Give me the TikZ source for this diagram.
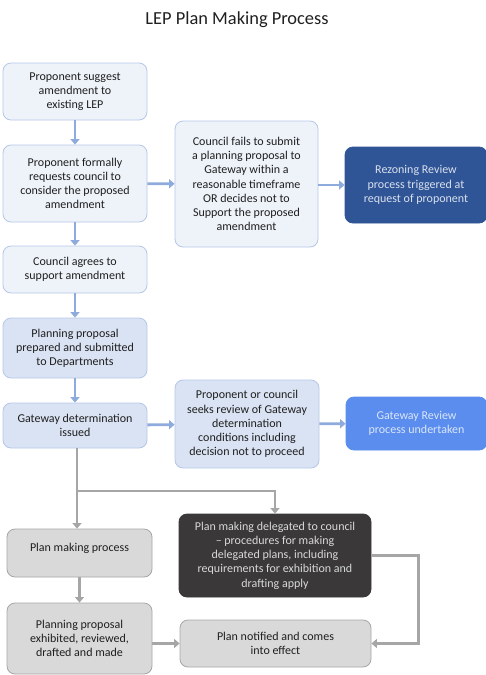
\documentclass[tikz,border=0pt]{standalone}
\usepackage{fontspec}
\setmainfont{Carlito}
\usepackage{xcolor}
\usepackage{tikz}
\usetikzlibrary{positioning,arrows.meta}

\definecolor{paleblue}{HTML}{EEF3FA}
\definecolor{midblue}{HTML}{DAE3F3}
\definecolor{edgeblue}{HTML}{B4C7E7}
\definecolor{darkblue}{HTML}{2F5597}
\definecolor{brightblue}{HTML}{5A8DEE}
\definecolor{arrowblue}{HTML}{8FAADC}
\definecolor{boxgray}{HTML}{D9D9D9}
\definecolor{edgegray}{HTML}{A6A6A6}
\definecolor{darkbox}{HTML}{3A3838}

\begin{document}
\begin{tikzpicture}[x=1pt,y=-1pt,
  box/.style={draw=edgeblue,line width=0.8pt,rounded corners=8pt,align=center,
    inner sep=2pt,font=\fontsize{12}{14.2}\selectfont,text=black!88},
  pale/.style={box,fill=paleblue},
  mid/.style={box,fill=midblue},
  grey/.style={box,draw=edgegray,fill=boxgray},
  bluearrow/.style={draw=arrowblue,line width=2.8pt,-{Triangle[width=9pt,length=5.5pt]}},
  grayarrow/.style={draw=edgegray,line width=2.8pt,-{Triangle[width=9pt,length=5.5pt]}}]
\useasboundingbox (0,0) rectangle (486,675);
\node[font=\fontsize{18.4}{21}\selectfont,text=black!88] (title) at (237,20) {LEP Plan Making Process};

% left column
\node[pale,minimum width=144pt,minimum height=57pt] (s1) at (75,91.5) {Proponent suggest\\amendment to\\existing LEP};
\node[pale,minimum width=144pt,minimum height=77pt] (s2) at (75,183.5) {Proponent formally\\requests council to\\consider the proposed\\amendment};
\node[pale,minimum width=144pt,minimum height=47pt] (s3) at (75,269.5) {Council agrees to\\support amendment};
\node[mid,minimum width=144pt,minimum height=60pt] (prep) at (75,348) {Planning proposal\\prepared and submitted\\to Departments};
\node[mid,minimum width=144pt,minimum height=45pt] (gwdet) at (75,425.5) {Gateway determination\\issued};

% review branches
\node[pale,minimum width=143pt,minimum height=126pt] (fails) at (246.5,184) {Council fails to submit\\a planning proposal to\\Gateway within a\\reasonable timeframe\\OR decides not to\\Support the proposed\\amendment};
\node[box,draw=darkblue,fill=darkblue,text=white!82!darkblue,minimum width=142pt,minimum height=76pt] (rezone) at (416,185) {Rezoning Review\\process triggered at\\request of proponent};
\node[mid,minimum width=144pt,minimum height=88pt] (seeks) at (247,424) {Proponent or council\\seeks review of Gateway\\determination\\conditions including\\decision not to proceed};
\node[box,draw=brightblue,fill=brightblue,text=white!78!brightblue,minimum width=141pt,minimum height=53pt] (gwrev) at (416.5,423.5) {Gateway Review\\process undertaken};

% plan making
\node[grey,minimum width=145pt,minimum height=48pt,text depth=12pt] (pmp) at (79.5,553) {Plan making process};
\node[box,draw=darkbox,fill=darkbox,text=boxgray,minimum width=192pt,minimum height=83pt] (deleg) at (275,555.5) {Plan making delegated to council\\-- procedures for making\\delegated plans, including\\requirements for exhibition and\\drafting apply};
\node[grey,minimum width=145pt,minimum height=71pt] (exhib) at (79.5,638.5) {Planning proposal\\exhibited, reviewed,\\drafted and made};
\node[grey,minimum width=191pt,minimum height=47pt] (notif) at (275.5,643.5) {Plan notified and comes\\into effect};

\coordinate (split) at (77,491);

\draw[bluearrow] (s1) -- (s2);
\draw[bluearrow] (s2) -- (s3);
\draw[bluearrow] (s3) -- (prep);
\draw[bluearrow] (prep) -- (gwdet);
\draw[bluearrow] (s2) -- (fails);
\draw[bluearrow] (fails.east |- rezone.west) -- (rezone);
\draw[bluearrow] (gwdet) -- (seeks);
\draw[bluearrow] (seeks) -- (gwrev);
\draw[grayarrow] (gwdet.south -| split) -- (pmp.north -| split);
\draw[grayarrow] (split) -| (deleg.north);
\draw[grayarrow] (pmp) -- (exhib);
\draw[grayarrow] (notif.west -| exhib.east) -- (notif.west);
\draw[grayarrow] (deleg.east) -- ++(47,0) |- (notif.east);
\end{tikzpicture}
\end{document}
